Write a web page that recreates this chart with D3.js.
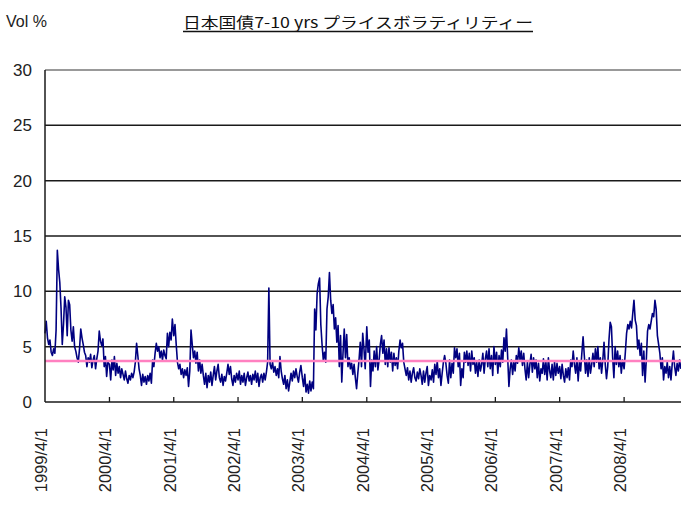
<!DOCTYPE html>
<html>
<head>
<meta charset="utf-8">
<script src="https://cdn.jsdelivr.net/npm/d3@7"></script>
<style>
  body { margin: 0; background: #fff; }
  svg { display: block; }
  text { font-family: "Liberation Sans", Arial, sans-serif; }
</style>
</head>
<body>
<svg id="chart" width="681" height="508"></svg>
<script>
// Weekly price volatility (%), one array per fiscal year starting April 1
const fy1999 = [6.2,7.3,5.8,5.2,5.6,4.5,4.2,4.8,4.4,6.5,13.7,12.0,10.8,8.5,5.2,7.0,9.5,8.6,6.0,9.2,8.8,6.5,5.5,6.8,5.0,4.6,4.0,3.6,4.8,6.6,5.8,5.2,4.5,4.2,3.2,4.0,3.6,4.3,3.1,3.8,4.2,3.0,3.9,4.6,6.4,5.5,5.1,5.7,3.2,4.1,2.3,3.6];
const fy2000 = [3.4,2.0,3.8,2.9,4.1,2.4,3.5,2.6,3.2,2.2,3.0,2.5,2.0,2.8,2.1,1.7,2.4,2.0,2.6,2.2,2.7,3.6,5.3,4.2,3.0,2.4,1.5,2.5,1.8,2.3,1.6,2.4,1.9,2.6,1.7,3.8,3.2,4.4,5.3,4.6,5.0,4.0,4.6,3.8,4.7,4.2,3.9,6.2,5.0,6.3,5.6,7.5];
const fy2001 = [6.0,7.0,5.2,3.6,3.0,3.4,2.5,3.0,2.2,2.9,2.4,3.1,1.4,2.8,6.5,5.2,4.0,4.6,3.5,4.5,2.8,3.8,2.6,3.4,2.4,1.6,2.6,1.3,2.4,1.8,2.7,1.5,2.4,3.2,2.0,2.8,3.4,2.2,1.8,2.5,1.5,2.3,1.9,2.6,3.4,2.5,3.2,2.1,1.5,2.4,1.8,2.6];
const fy2002 = [2.0,2.8,1.6,2.4,1.8,2.6,1.5,2.2,2.7,1.9,2.4,1.6,2.5,2.0,2.8,1.8,2.6,1.4,2.2,2.5,1.8,2.6,2.0,2.7,3.6,10.3,3.4,3.0,3.6,2.7,3.2,2.4,3.0,2.2,4.1,2.8,2.1,1.6,2.4,1.2,2.0,1.0,1.8,2.6,1.9,2.8,2.2,3.0,2.3,1.8,2.7,3.3];
const fy2003 = [2.2,1.4,2.5,0.9,1.6,0.8,1.9,1.0,1.8,1.2,8.4,6.5,9.8,10.7,11.2,7.0,5.2,3.8,4.5,3.6,8.4,9.5,11.7,9.2,8.0,8.8,6.6,7.6,5.4,6.9,3.2,6.0,1.8,4.4,6.6,4.0,6.1,3.2,4.0,3.0,3.5,2.5,3.4,2.2,1.2,2.6,3.8,5.4,3.2,6.2,4.8,3.0];
const fy2004 = [6.8,4.5,5.6,1.4,3.8,2.8,4.6,3.2,5.0,2.9,3.8,5.2,6.0,4.4,5.6,3.4,4.8,3.2,4.9,3.6,4.5,2.8,4.4,3.3,4.0,3.0,4.6,5.6,4.9,5.3,3.6,3.0,2.4,3.1,2.0,2.8,1.8,2.6,3.1,2.2,1.9,2.7,2.1,3.0,2.4,1.6,2.8,1.8,2.6,3.2,1.5,2.4];
const fy2005 = [2.0,2.9,1.8,3.4,2.5,3.7,2.2,3.0,1.5,2.6,3.6,4.2,3.5,2.4,1.7,3.8,2.2,3.5,2.6,4.9,4.0,4.8,3.2,4.4,1.5,3.0,2.2,4.5,3.6,4.6,3.3,4.4,2.8,4.6,3.4,4.0,2.6,3.6,2.3,3.8,2.8,3.4,4.4,2.6,3.9,4.6,3.2,4.8,3.0,4.2,2.4,5.0];
const fy2006 = [3.4,4.5,2.6,4.2,3.2,4.7,3.6,5.8,4.6,6.6,4.0,1.4,3.0,3.8,2.5,3.6,2.8,4.2,3.5,4.9,3.8,4.6,3.3,4.4,3.0,2.0,3.6,2.2,3.4,4.3,2.7,4.0,3.0,3.8,2.2,3.5,1.9,3.0,2.6,3.9,2.5,3.6,2.0,4.0,2.8,2.2,3.4,2.0,3.6,2.4,3.5,2.6];
const fy2007 = [3.2,2.1,3.4,2.4,1.8,3.0,2.2,3.1,2.0,3.8,3.2,4.6,3.4,2.6,4.0,1.9,3.6,2.8,4.4,5.9,4.2,2.6,3.8,2.3,4.0,2.6,3.4,4.4,3.2,4.8,3.6,5.0,3.0,4.0,2.6,3.8,5.4,3.4,2.1,3.2,5.6,7.2,6.8,4.0,2.2,5.0,3.4,4.6,3.2,4.2,2.6,3.8];
const fy2008 = [3.0,4.5,6.2,7.0,6.6,7.3,6.7,8.0,9.2,7.4,6.9,4.8,5.6,4.2,5.3,2.4,4.6,1.8,3.8,6.4,7.0,6.6,7.3,8.0,7.7,9.2,8.4,6.0,5.2,4.4,3.0,4.0,2.0,3.2,2.6,3.6,2.2,3.2,2.0,3.4,4.6,3.2,2.4,3.5,2.8,3.8,3.0];

const fiscalYears = [1999, 2000, 2001, 2002, 2003, 2004, 2005, 2006, 2007, 2008];
const seriesByYear = [fy1999, fy2000, fy2001, fy2002, fy2003, fy2004, fy2005, fy2006, fy2007, fy2008];
const yTicks = [0, 5, 10, 15, 20, 25, 30];
const averageVol = 3.7;
const titleText = "日本国債7-10 yrs プライスボラティリティー";
const unitLabel = "Vol %";

// Build dated points: each fiscal year begins on April 1, weekly steps
const points = [];
seriesByYear.forEach((vals, k) => {
  const start = new Date(fiscalYears[k], 3, 1);
  vals.forEach((v, i) => {
    points.push({ date: d3.timeDay.offset(start, 7 * i), value: v });
  });
});

const svg = d3.select("#chart");
const plotLeft = 45, plotRight = 681, plotTop = 70, plotBottom = 402;

const x = d3.scaleTime()
  .domain([new Date(1999, 3, 1), new Date(2009, 1, 18)])
  .range([plotLeft, plotRight]);
const y = d3.scaleLinear().domain([0, 30]).range([plotBottom, plotTop]);

// Horizontal gridlines
svg.append("g").selectAll("line")
  .data(yTicks.filter(t => t > 0))
  .join("line")
  .attr("x1", plotLeft).attr("x2", plotRight)
  .attr("y1", d => y(d)).attr("y2", d => y(d))
  .attr("stroke", d => d === 30 ? "#777" : "#1a1a1a")
  .attr("stroke-width", 1.5);

// Y tick labels
svg.append("g").selectAll("text")
  .data(yTicks)
  .join("text")
  .attr("x", 32).attr("y", d => y(d))
  .attr("dy", "0.36em")
  .attr("text-anchor", "end")
  .attr("font-size", 17)
  .attr("fill", "#222")
  .text(d => d);

// Volatility line
const line = d3.line().x(d => x(d.date)).y(d => y(d.value));
svg.append("path")
  .datum(points)
  .attr("fill", "none")
  .attr("stroke", "#000080")
  .attr("stroke-width", 1.6)
  .attr("stroke-linejoin", "round")
  .attr("d", line);

// Average level
svg.append("line")
  .attr("x1", plotLeft).attr("x2", plotRight)
  .attr("y1", y(averageVol)).attr("y2", y(averageVol))
  .attr("stroke", "#ff80c0")
  .attr("stroke-width", 2.5);

// Axes frame
svg.append("line")
  .attr("x1", plotLeft).attr("x2", plotLeft).attr("y1", plotTop).attr("y2", plotBottom)
  .attr("stroke", "#1a1a1a").attr("stroke-width", 1.5);
svg.append("line")
  .attr("x1", plotLeft).attr("x2", plotRight).attr("y1", plotBottom).attr("y2", plotBottom)
  .attr("stroke", "#1a1a1a").attr("stroke-width", 1.5);

// X ticks (inward) and rotated date labels
const tickDates = fiscalYears.map(yr => new Date(yr, 3, 1));
svg.append("g").selectAll("line")
  .data(tickDates.slice(1))
  .join("line")
  .attr("x1", d => x(d)).attr("x2", d => x(d))
  .attr("y1", plotBottom).attr("y2", plotBottom - 5)
  .attr("stroke", "#1a1a1a").attr("stroke-width", 1.3);

svg.append("g").selectAll("text")
  .data(tickDates)
  .join("text")
  .attr("transform", d => `translate(${x(d) - 4},${428}) rotate(-90)`)
  .attr("dy", "0.36em")
  .attr("text-anchor", "end")
  .attr("font-size", 16.5)
  .attr("fill", "#222")
  .text(d => `${d.getFullYear()}/4/1`);

// Unit label and title
svg.append("text")
  .attr("x", 6).attr("y", 27)
  .attr("font-size", 16)
  .attr("fill", "#222")
  .text(unitLabel);

svg.append("text")
  .attr("x", 183).attr("y", 28)
  .attr("font-size", 15)
  .attr("fill", "#111")
  .attr("textLength", 350)
  .attr("lengthAdjust", "spacingAndGlyphs")
  .style("font-family", "'Noto Sans CJK JP', sans-serif")
  .text(titleText);
svg.append("line")
  .attr("x1", 183).attr("x2", 533).attr("y1", 31.5).attr("y2", 31.5)
  .attr("stroke", "#111").attr("stroke-width", 1.3);
</script>
</body>
</html>
